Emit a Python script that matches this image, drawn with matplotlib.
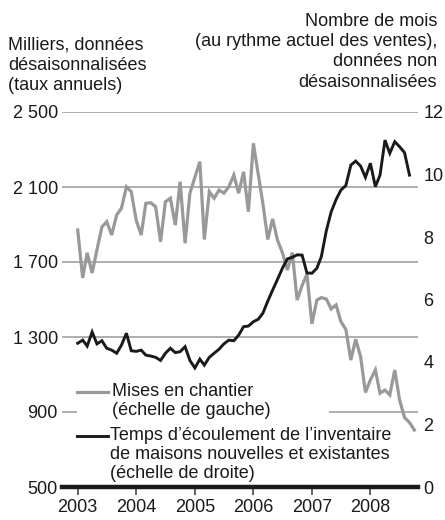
import matplotlib
matplotlib.use('Agg')
import matplotlib.pyplot as plt
import pandas as pd
from matplotlib.lines import Line2D
from matplotlib.patches import Rectangle

plt.rcParams['font.family'] = ['Liberation Sans', 'DejaVu Sans']

W, H = 445, 520

# ---- data (monthly, from January 2003) ----
mises_en_chantier = [
    1871, 1615, 1749, 1641, 1765, 1887, 1915, 1844, 1951, 1987, 2101, 2075,   # 2003
    1923, 1844, 2013, 2016, 1995, 1808, 2021, 2040, 1897, 2128, 1800, 2067,   # 2004
    2152, 2235, 1820, 2075, 2040, 2084, 2067, 2101, 2164, 2067, 2181, 1968,   # 2005
    2333, 2164, 2013, 1820, 1930, 1815, 1750, 1657, 1750, 1497, 1575, 1635,   # 2006
    1370, 1497, 1510, 1503, 1450, 1471, 1382, 1340, 1177, 1288, 1195, 1004,   # 2007
    1071, 1124, 1000, 1017, 991, 1124, 965, 870, 844, 804,                    # 2008
]
temps_ecoulement = [
    4.60, 4.70, 4.51, 4.96, 4.58, 4.68, 4.44, 4.38, 4.28, 4.54, 4.92, 4.36,   # 2003
    4.34, 4.38, 4.22, 4.19, 4.15, 4.05, 4.28, 4.44, 4.30, 4.33, 4.49, 4.05,   # 2004
    3.81, 4.09, 3.90, 4.15, 4.28, 4.41, 4.58, 4.70, 4.68, 4.86, 5.13, 5.15,   # 2005
    5.29, 5.37, 5.56, 5.95, 6.30, 6.65, 7.00, 7.30, 7.35, 7.43, 7.42, 6.85,   # 2006
    6.84, 7.00, 7.37, 8.20, 8.80, 9.20, 9.50, 9.65, 10.30, 10.43, 10.27, 9.91, # 2007
    10.36, 9.61, 9.98, 11.10, 10.68, 11.05, 10.89, 10.70, 9.98,               # 2008
]
dates_mises = pd.date_range('2003-01-01', periods=len(mises_en_chantier), freq='MS')
dates_temps = pd.date_range('2003-01-01', periods=len(temps_ecoulement), freq='MS')

years = [2003, 2004, 2005, 2006, 2007, 2008]
left_ticks = [500, 900, 1300, 1700, 2100, 2500]
left_labels = ['500', '900', '1 300', '1 700', '2 100', '2 500']
right_ticks = [0, 2, 4, 6, 8, 10, 12]

left_header = ['Milliers, données', 'désaisonnalisées', '(taux annuels)']
right_header = ['Nombre de mois', '(au rythme actuel des ventes),',
                'données non', 'désaisonnalisées']
legend_gray = ['Mises en chantier', '(échelle de gauche)']
legend_black = ['Temps d\u2019écoulement de l\u2019inventaire',
                'de maisons nouvelles et existantes', '(échelle de droite)']

GRAY = '#999999'
BLACK = '#1a1a1a'
FS = 13

fig = plt.figure(figsize=(W / 100, H / 100), dpi=100)
ax = fig.add_axes([62 / W, 1 - 487 / H, 356 / W, 375 / H])
ax2 = ax.twinx()

ax.plot(dates_mises, mises_en_chantier, color=GRAY, lw=2.3, solid_joinstyle='miter', zorder=3)
ax2.plot(dates_temps, temps_ecoulement, color=BLACK, lw=2.1, solid_joinstyle='miter', zorder=3)

t0 = pd.Timestamp('2003-01-01')
ax.set_xlim(t0 - pd.Timedelta(days=98), t0 + pd.Timedelta(days=2123))
ax.set_ylim(500, 2500)
ax2.set_ylim(0, 12)

ax.set_yticks(left_ticks)
ax.set_yticklabels(left_labels, fontsize=FS)
ax2.set_yticks(right_ticks)
ax2.set_yticklabels([str(v) for v in right_ticks], fontsize=FS)
ax.set_xticks([pd.Timestamp(f'{y}-01-01') for y in years])
ax.set_xticklabels([str(y) for y in years], fontsize=FS)

ax.grid(axis='y', color=GRAY, lw=1.1)
ax.set_axisbelow(True)
for s in ['left', 'right', 'top']:
    ax.spines[s].set_visible(False)
for s in ax2.spines.values():
    s.set_visible(False)
ax.spines['bottom'].set_color(BLACK)
ax.spines['bottom'].set_linewidth(3.2)
ax.spines['bottom'].set_zorder(5)

ax.tick_params(axis='y', length=0, pad=3, labelcolor=BLACK)
ax2.tick_params(axis='y', length=0, pad=4, labelcolor=BLACK)
ax.tick_params(axis='x', length=6, width=1.3, color='#555555', pad=3, labelcolor=BLACK)

# legend (white box hiding the grid line)
def fx(px):
    return (px - 62) / 356
def fy(py):
    return (487 - py) / 375

ax2.add_patch(Rectangle((fx(77), fy(482)), fx(329) - fx(77), fy(382) - fy(482),
                        transform=ax2.transAxes, facecolor='white', edgecolor='none',
                        zorder=4, clip_on=False))
ax2.add_line(Line2D([fx(77), fx(108)], [fy(392), fy(392)], transform=ax2.transAxes,
                    color=GRAY, lw=2.3, zorder=5, clip_on=False))
ax2.add_line(Line2D([fx(77), fx(108)], [fy(436), fy(436)], transform=ax2.transAxes,
                    color=BLACK, lw=2.1, zorder=5, clip_on=False))

def ftext(px, py, s, ha='left'):
    fig.text(px / W, 1 - py / H, s, ha=ha, va='center', fontsize=FS, color=BLACK)

for k, s in enumerate(legend_gray):
    ftext(112, 392 + 18.5 * k, s)
for k, s in enumerate(legend_black):
    ftext(110, 436 + 18.5 * k, s)

for k, s in enumerate(left_header):
    ftext(8, 45 + 20.5 * k, s)
for k, s in enumerate(right_header):
    ftext(437, 21 + 20.5 * k, s, ha='right')

fig.savefig('out.png', dpi=100)
